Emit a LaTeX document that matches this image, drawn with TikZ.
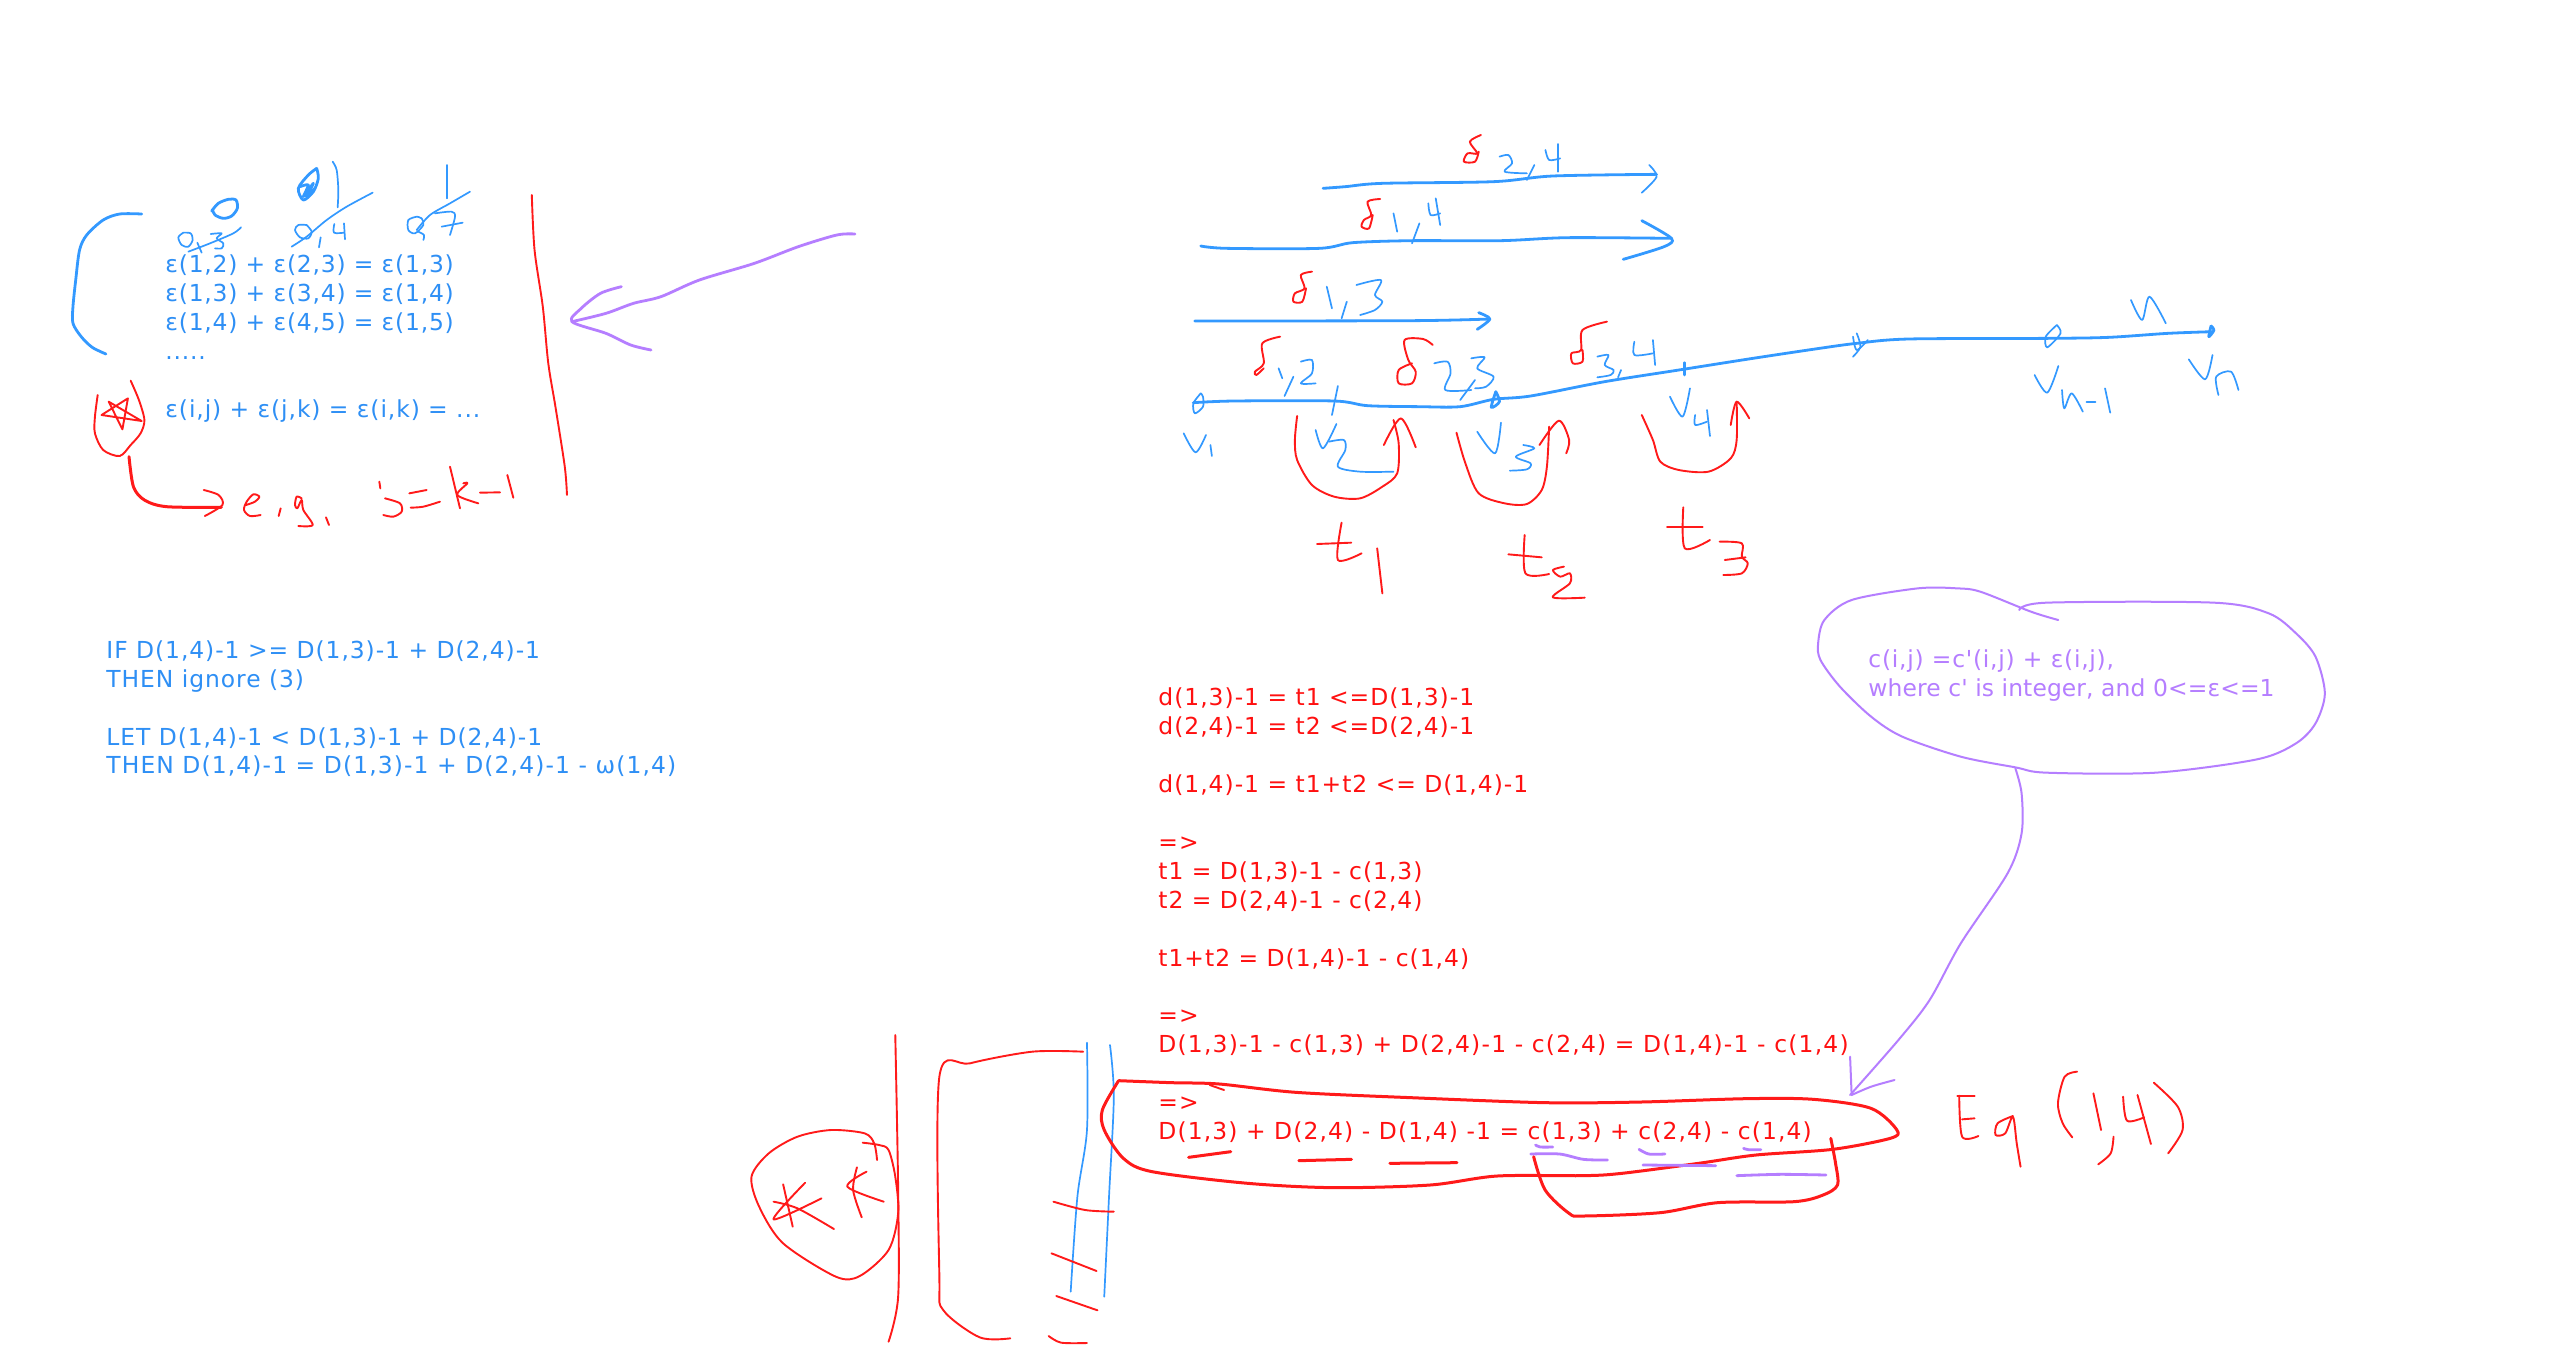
\documentclass[tikz,border=0pt]{standalone}
\usepackage{fontspec}
\setmainfont{DejaVu Sans}
\newfontfamily\fontA[LetterSpace=3.4]{DejaVu Sans}
\newfontfamily\fontAb[LetterSpace=3.9]{DejaVu Sans}
\newfontfamily\fontB[LetterSpace=4.1]{DejaVu Sans}
\newfontfamily\fontBb[LetterSpace=4.8]{DejaVu Sans}
\newfontfamily\fontC[LetterSpace=4.3]{DejaVu Sans}
\newfontfamily\fontCa[LetterSpace=5.2]{DejaVu Sans}
\newfontfamily\fontCb[LetterSpace=4.8]{DejaVu Sans}
\newfontfamily\fontP[LetterSpace=3.2]{DejaVu Sans}
\newfontfamily\fontQ[LetterSpace=0.5]{DejaVu Sans}
\definecolor{penblue}{HTML}{3399FF}
\definecolor{penred}{HTML}{FF1A1A}
\definecolor{penpurple}{HTML}{B57EFF}
\definecolor{txtblue}{HTML}{2E8FF5}
\definecolor{txtred}{HTML}{FF1010}
\definecolor{txtpurple}{HTML}{B57EFF}
\newcommand\stk[2]{\draw[#1] plot[smooth,tension=0.5] coordinates {#2};}
\newcommand\sz{\fontsize{11.7}{14}\selectfont}
\tikzset{
  x=0.5pt,y=-0.5pt,
  ink/.style={line cap=round,line join=round},
  bl/.style={ink,draw=penblue,line width=0.85pt},
  blt/.style={ink,draw=penblue,line width=1.4pt},
  rd/.style={ink,draw=penred,line width=0.95pt},
  rdt/.style={ink,draw=penred,line width=1.5pt},
  pu/.style={ink,draw=penpurple,line width=1pt},
  put/.style={ink,draw=penpurple,line width=1.4pt},
  txt/.style={anchor=base west,inner sep=0pt},
  tb/.style={txt,text=txtblue,font=\fontA\sz},
  tc/.style={txt,text=txtblue,font=\fontB\sz},
  tr/.style={txt,text=txtred,font=\fontC\sz},
  tp/.style={txt,text=txtpurple},
  zoneA/.style={shift={(40,140)},xscale=0.5495,yscale=0.33333},
  zoneB/.style={shift={(1160,120)},xscale=0.7412,yscale=0.33333},
  zoneC/.style={shift={(740,1030)},xscale=0.9585,yscale=0.33333},
  zoneD/.style={shift={(1150,580)},xscale=0.7796,yscale=0.33333},
  zoneE/.style={shift={(160,150)},xscale=0.33333,yscale=0.33333},
  zoneF/.style={shift={(220,460)},xscale=0.33333,yscale=0.33333},
}
\begin{document}
\begin{tikzpicture}
\useasboundingbox (0,0) rectangle (2560,1356);
\fill[white] (0,0) rectangle (2560,1356);
% texts
\node[tb] (a1) at (165,272) {ε(1,2) + ε(2,3) = ε(1,3)};
\node[tb] (a2) at (165,301) {ε(1,3) + ε(3,4) = ε(1,4)};
\node[tb] (a3) at (165,330.5) {ε(1,4) + ε(4,5) = ε(1,5)};
\node[tb] (a4) at (165,359) {.....};
\node[tb,font=\fontAb\sz] (a5) at (165,417) {ε(i,j) + ε(j,k) = ε(i,k) = ...};
\node[tc] (b1) at (106,658) {IF D(1,4)-1 >= D(1,3)-1 + D(2,4)-1};
\node[tc] (b2) at (106,687) {THEN ignore (3)};
\node[tc] (b3) at (106,745) {LET D(1,4)-1 < D(1,3)-1 + D(2,4)-1};
\node[tc,font=\fontBb\sz] (b4) at (106,773) {THEN D(1,4)-1 = D(1,3)-1 + D(2,4)-1 - ω(1,4)};
\node[tr] (c1) at (1158,705) {d(1,3)-1 = t1 <=D(1,3)-1};
\node[tr] (c2) at (1158,734) {d(2,4)-1 = t2 <=D(2,4)-1};
\node[tr] (c3) at (1158,792) {d(1,4)-1 = t1+t2 <= D(1,4)-1};
\node[tr] (c4) at (1158,850) {=>};
\node[tr] (c5) at (1158,879) {t1 = D(1,3)-1 - c(1,3)};
\node[tr] (c6) at (1158,908) {t2 = D(2,4)-1 - c(2,4)};
\node[tr] (c7) at (1158,966) {t1+t2 = D(1,4)-1 - c(1,4)};
\node[tr] (c8) at (1158,1023) {=>};
\node[tr,font=\fontCa\sz] (c9) at (1158,1052) {D(1,3)-1 - c(1,3) + D(2,4)-1 - c(2,4) = D(1,4)-1 - c(1,4)};
\node[tr] (c10) at (1158,1110) {=>};
\node[tr,font=\fontCb\sz] (c11) at (1158,1139) {D(1,3) + D(2,4) - D(1,4) -1 = c(1,3) + c(2,4) - c(1,4)};
\node[tp,font=\fontP\sz] (p1) at (1868,667) {c(i,j) =c'(i,j) + ε(i,j),};
\node[tp,font=\fontQ\sz] (p2) at (1868,696) {where c' is integer, and 0<=ε<=1};
% zone E: crossed-out figures above the equations
\begin{scope}[zoneE]
\stk{blt}{(155,183)(175,160)(205,148)(228,150)(232,175)(215,198)(190,205)(165,195)(158,180)}
\stk{bl}{(70,248)(55,262)(65,285)(85,290)(98,270)(92,250)(70,248)}
\stk{bl}{(112,278)(125,308)}
\stk{bl}{(152,252)(185,250)(170,265)(190,280)(185,295)(165,295)}
\stk{bl}{(85,305)(150,280)(220,250)(243,232)}
\stk{blt}{(470,55)(445,75)(415,115)(430,150)(460,125)(475,85)(470,55)}
\stk{blt}{(420,110)(445,105)(430,140)(460,100)(440,140)(465,115)}
\stk{bl}{(518,35)(530,60)(535,120)(533,172)}
\stk{bl}{(395,290)(440,260)(500,210)(560,170)(638,128)}
\stk{bl}{(440,225)(415,225)(405,240)(420,262)(445,265)(455,245)(440,225)}
\stk{bl}{(482,262)(477,292)}
\stk{bl}{(523,222)(522,248)(552,248)}
\stk{bl}{(552,220)(555,268)}
\stk{bl}{(860,45)(860,145)}
\stk{bl}{(770,240)(810,195)(870,160)(930,125)}
\stk{bl}{(770,200)(745,210)(745,240)(765,250)(790,225)(785,205)(770,200)}
\stk{bl}{(775,245)(792,255)(790,270)}
\stk{bl}{(825,190)(875,185)(885,200)(870,255)}
\stk{bl}{(845,230)(908,218)}
\end{scope}
% zone F: e.g. j=k-1
\begin{scope}[zoneF]
\stk{rd}{(78,135)(105,125)(118,110)(100,103)(80,125)(72,150)(90,168)(122,165)}
\stk{rd}{(182,145)(176,168)}
\stk{rd}{(245,115)(230,110)(225,135)(232,145)(245,120)(250,150)(278,195)(235,198)}
\stk{rd}{(318,172)(327,195)}
\stk{rd}{(478,65)(481,85)}
\stk{rd}{(495,115)(540,130)(545,155)(520,170)(490,165)}
\stk{rd}{(568,100)(620,90)}
\stk{rd}{(572,143)(610,140)(660,125)}
\stk{rd}{(690,20)(720,145)}
\stk{rd}{(730,70)(742,70)(712,105)(775,130)}
\stk{rd}{(780,98)(840,97)}
\stk{rd}{(862,45)(880,113)}
\end{scope}
% zone A
\begin{scope}[zoneA]
\stk{blt}{(185,222)(145,222)(115,240)(85,285)(72,330)(65,420)(60,500)(60,550)(75,590)(95,622)(120,642)}
\stk{rd}{(895,165)(900,330)(915,500)(925,670)(938,800)(955,980)(959,1065)}
\stk{put}{(1483,282)(1450,285)(1380,320)(1300,370)(1200,420)(1130,470)(1080,490)(1030,520)(968,545)}
\stk{put}{(1058,440)(1020,460)(985,505)(968,545)(1030,580)(1075,615)(1112,630)}
\stk{rd}{(165,722)(180,780)(190,840)(183,880)(165,915)(145,948)(115,930)(100,880)(100,830)(105,765)}
\draw[rd] (112,825) -- (160,775) -- (150,868) -- (125,785) -- (185,843) -- cycle;
\stk{rdt}{(162,950)(170,1040)(190,1080)(230,1100)(330,1102)}
\stk{rd}{(298,1050)(325,1065)(332,1095)(300,1128)}
\end{scope}
% zone B
\begin{scope}[zoneB]
\stk{blt}{(220,205)(250,200)(300,190)(450,185)(530,168)(670,163)}
\stk{bl}{(650,218)(670,170)(660,135)}
\stk{rd}{(433,45)(418,65)(428,100)(415,100)(410,125)(425,125)(430,95)}
\stk{bl}{(458,110)(470,105)(475,130)(465,155)(495,160)}
\stk{bl}{(505,135)(495,180)}
\stk{bl}{(520,90)(525,120)(540,115)}
\stk{bl}{(537,72)(537,155)}
\stk{blt}{(55,378)(90,385)(215,385)(260,368)(340,362)(460,362)(550,353)(690,355)}
\stk{blt}{(650,302)(690,355)(680,380)(625,418)}
\stk{rd}{(297,237)(280,245)(285,285)(275,300)(272,320)(282,325)(287,285)}
\stk{bl}{(315,280)(320,335)}
\stk{bl}{(350,310)(340,370)}
\stk{bl}{(362,250)(365,285)(378,280)}
\stk{bl}{(372,235)(378,315)}
\stk{blt}{(47,603)(340,602)(445,597)}
\stk{blt}{(430,578)(445,597)(428,628)}
\stk{rd}{(205,455)(190,465)(195,505)(182,520)(180,545)(192,545)(197,505)}
\stk{bl}{(225,500)(232,565)}
\stk{bl}{(252,545)(245,595)}
\stk{bl}{(265,495)(298,480)(290,525)(300,545)(290,570)(270,585)}
\stk{blt}{(45,848)(100,843)(235,843)(280,857)(350,860)(405,860)(450,838)(500,828)(600,785)(700,750)(800,715)(890,685)(940,670)(1010,657)(1200,655)(1280,652)(1360,640)(1420,635)}
\stk{bl}{(55,820)(45,850)(47,880)(58,860)(58,830)(55,820)}
\stk{bl}{(240,798)(232,885)}
\stk{blt}{(453,815)(447,862)(458,845)(453,815)}
\stk{blt}{(708,728)(708,765)}
\stk{bl}{(940,640)(945,680)(935,710)}
\stk{bl}{(935,650)(940,690)(955,660)}
\stk{bl}{(1210,615)(1195,650)(1197,682)(1215,640)(1210,615)}
\stk{blt}{(1418,618)(1415,650)(1422,630)(1418,618)}
\stk{rd}{(162,650)(138,670)(140,730)(128,755)(130,765)(140,745)}
\stk{bl}{(160,745)(165,775)}
\stk{bl}{(180,770)(168,828)}
\stk{bl}{(190,725)(205,720)(205,760)(190,790)(210,790)}
\stk{rd}{(368,675)(355,657)(330,660)(335,720)(345,755)(340,790)(322,790)(322,750)(340,730)}
\stk{bl}{(370,730)(388,725)(392,760)(385,810)(420,810)}
\stk{bl}{(425,780)(405,840)}
\stk{bl}{(420,715)(438,712)(428,745)(450,770)(440,800)(425,805)}
\stk{rd}{(603,605)(570,630)(568,690)(555,700)(557,730)(570,725)(570,690)}
\stk{bl}{(590,710)(605,705)(600,735)(612,750)(608,765)(590,772)}
\stk{bl}{(622,750)(618,772)}
\stk{bl}{(640,665)(640,705)(665,700)}
\stk{bl}{(665,660)(668,735)}
\stk{bl}{(32,940)(48,997)(62,945)}
\stk{bl}{(68,975)(70,1008)}
\stk{bl}{(210,930)(220,985)(238,912)}
\stk{bl}{(228,965)(248,960)(250,990)(240,1040)(270,1055)(315,1055)}
\stk{bl}{(428,935)(452,1000)(460,908)}
\stk{bl}{(490,975)(505,985)(480,1010)(500,1030)(495,1048)(472,1052)}
\stk{bl}{(688,830)(705,890)(715,805)}
\stk{bl}{(722,885)(722,915)(738,905)}
\stk{bl}{(738,870)(742,948)}
\stk{rd}{(185,888)(182,960)(185,1020)(205,1095)(235,1130)(270,1135)(300,1100)(320,1060)(322,970)(315,900)}
\stk{rd}{(302,975)(325,895)(345,982)}
\stk{rd}{(400,938)(412,1030)(430,1120)(465,1150)(495,1152)(515,1110)(522,1040)(525,920)}
\stk{rd}{(512,975)(538,902)(552,960)(548,1000)}
\stk{rd}{(650,885)(665,960)(675,1025)(700,1050)(740,1055)(770,1015)(778,960)(778,845)}
\stk{rd}{(770,915)(778,845)(795,895)}
\stk{rd}{(245,1208)(240,1320)(272,1300)}
\stk{rd}{(212,1272)(258,1268)}
\stk{rd}{(293,1285)(300,1420)}
\stk{rd}{(492,1245)(493,1360)(525,1362)}
\stk{rd}{(470,1303)(515,1312)}
\stk{rd}{(545,1340)(530,1350)(540,1370)(553,1360)(553,1390)(530,1432)(573,1433)}
\stk{rd}{(706,1162)(708,1285)(742,1260)}
\stk{rd}{(684,1222)(732,1222)}
\stk{rd}{(755,1265)(785,1270)(785,1310)(793,1330)(785,1360)(760,1365)}
\stk{rd}{(762,1320)(790,1312)}
\stk{bl}{(1310,540)(1325,600)(1335,530)(1357,610)}
\stk{bl}{(1180,765)(1197,818)(1212,738)}
\stk{bl}{(1217,810)(1220,865)(1230,820)(1245,875)}
\stk{bl}{(1250,845)(1262,845)}
\stk{bl}{(1275,805)(1282,878)}
\stk{bl}{(1388,718)(1410,778)(1420,705)}
\stk{bl}{(1428,825)(1425,770)(1445,755)(1455,810)}
\end{scope}
% zone D
\begin{scope}[zoneD]
\stk{pu}{(1165,120)(1130,95)(1065,35)(1035,25)(985,25)(900,60)(865,120)(857,190)(860,240)(885,320)(925,410)(965,470)(1040,530)(1110,562)(1150,578)(1290,578)(1420,538)(1470,490)(1495,430)(1507,340)(1495,230)(1470,160)(1435,100)(1365,68)(1150,68)(1115,90)}
\stk{pu}{(1110,565)(1118,640)(1118,760)(1100,880)(1040,1090)(1000,1260)(960,1380)(898,1545)}
\draw[pu] (898,1430) -- (900,1545);
\stk{pu}{(900,1545)(925,1520)(955,1500)}
\end{scope}
% zone C
\begin{scope}[zoneC]
\stk{rd}{(162,15)(165,480)(165,800)(155,935)}
\stk{rd}{(143,390)(140,340)(130,310)(95,300)(60,320)(30,370)(12,440)(20,530)(45,640)(100,740)(125,738)(155,660)(165,550)(162,440)(155,360)(145,345)(128,338)}
\stk{rd}{(45,463)(55,590)}
\stk{rd}{(68,458)(35,568)(85,505)}
\stk{rd}{(35,515)(60,535)(98,597)}
\stk{rd}{(122,412)(118,480)(127,562)}
\stk{rd}{(132,425)(112,470)(150,515)}
\stk{rd}{(358,65)(305,65)(240,100)(208,140)(208,740)(212,840)(250,922)(282,925)}
\stk{rd}{(322,918)(335,938)(362,939)}
\stk{bl}{(362,38)(362,300)(352,500)(345,785)}
\stk{bl}{(386,45)(390,200)(385,500)(380,800)}
\stk{rd}{(327,515)(360,540)(390,545)}
\stk{rd}{(325,670)(372,723)}
\stk{rd}{(330,798)(373,841)}
\stk{rdt}{(395,152)(450,158)(500,162)(580,187)(700,203)(840,218)(940,216)(1050,206)(1120,208)(1180,235)(1207,300)(1200,325)(1140,358)(1060,375)(1000,400)(920,430)(880,437)(790,438)(720,465)(620,473)(530,460)(430,425)(400,385)(380,300)(378,240)(395,152)}
\stk{rd}{(490,165)(505,180)}
\stk{rdt}{(828,380)(840,480)(865,550)(880,558)(960,548)(1020,518)(1100,515)(1130,495)(1145,465)(1143,400)(1138,325)}
\stk{rdt}{(468,382)(512,365)}
\stk{rdt}{(583,392)(638,388)}
\stk{rdt}{(678,400)(748,398)}
\stk{put}{(830,345)(835,351)(848,351)}
\stk{put}{(825,372)(855,372)(880,388)(905,390)}
\stk{put}{(938,358)(948,372)(965,372)}
\stk{put}{(942,405)(1018,407)}
\stk{put}{(1047,355)(1052,359)(1065,359)}
\stk{put}{(1040,437)(1085,433)(1133,435)}
\stk{rd}{(1270,197)(1288,197)}
\stk{rd}{(1272,197)(1275,320)(1292,318)}
\stk{rd}{(1275,268)(1288,265)}
\stk{rd}{(1328,258)(1312,280)(1310,315)(1320,310)(1328,260)(1332,340)(1336,410)}
\stk{rd}{(1395,125)(1382,140)(1375,220)(1380,280)(1390,322)}
\stk{rd}{(1412,190)(1420,300)}
\stk{rd}{(1433,320)(1430,370)(1417,403)}
\stk{rd}{(1443,200)(1447,272)(1465,262)}
\stk{rd}{(1458,195)(1472,342)}
\stk{rd}{(1475,158)(1500,230)(1505,300)(1490,370)}
\end{scope}
\end{tikzpicture}
\end{document}
